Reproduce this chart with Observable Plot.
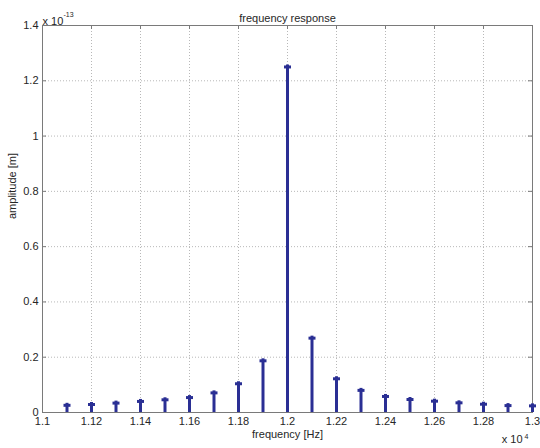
<!DOCTYPE html>
<html><head><meta charset="utf-8">
<script src="https://cdn.jsdelivr.net/npm/d3@7"></script>
<script src="https://cdn.jsdelivr.net/npm/@observablehq/plot@0.6"></script>
<style>body{margin:0;background:#fff} svg{display:block}</style>
</head><body><div id="chart"></div>
<script>
const frequency = [1.11,1.12,1.13,1.14,1.15,1.16,1.17,1.18,1.19,1.20,1.21,1.22,1.23,1.24,1.25,1.26,1.27,1.28,1.29,1.30];
const amplitude = [0.026,0.029,0.034,0.040,0.046,0.054,0.071,0.104,0.187,1.25,0.269,0.122,0.080,0.058,0.047,0.041,0.035,0.030,0.025,0.024];
const xTicks = [1.1,1.12,1.14,1.16,1.18,1.2,1.22,1.24,1.26,1.28,1.3];
const yTicks = [0,0.2,0.4,0.6,0.8,1,1.2,1.4];
const titleText = "frequency response";
const xLabel = "frequency [Hz]";
const yLabel = "amplitude [m]";
const yExponent = "-13";
const xExponent = "4";

const data = frequency.map((f, i) => ({f, a: amplitude[i]}));
const W = 540, H = 448, mL = 42, mR = 8, mT = 25, mB = 36;
const innerH = H - mT - mB, innerW = W - mL - mR;
const fmt = d => String(+d.toFixed(2));
const stemColor = "#2a2f94";
const frameColor = "#7a7a7a";
const gridColor = "#b8b8b8";
const barSymbol = {draw(ctx) { ctx.rect(-3.5, -1.5, 7, 3); }};

const chart = Plot.plot({
  width: W, height: H,
  marginLeft: mL, marginRight: mR, marginTop: mT, marginBottom: mB,
  style: {fontFamily: "'Liberation Sans', Arial, sans-serif", fontSize: "11px", color: "#262626", background: "#fff", overflow: "visible"},
  x: {domain: [1.1, 1.3], ticks: xTicks, tickFormat: fmt, tickSize: 0, tickPadding: 5, label: null},
  y: {domain: [0, 1.4], ticks: yTicks, tickFormat: fmt, tickSize: 0, tickPadding: 4, label: null},
  marks: [
    Plot.ruleX(xTicks.slice(1, -1), {stroke: gridColor, strokeDasharray: "1,2"}),
    Plot.ruleY(yTicks.slice(1, -1), {stroke: gridColor, strokeDasharray: "1,2"}),
    Plot.ruleX(xTicks, {insetTop: innerH - 4, stroke: frameColor}),
    Plot.ruleX(xTicks, {insetBottom: innerH - 4, stroke: frameColor}),
    Plot.ruleY(yTicks, {insetRight: innerW - 4, stroke: frameColor}),
    Plot.ruleY(yTicks, {insetLeft: innerW - 4, stroke: frameColor}),
    Plot.frame({stroke: frameColor}),
    Plot.ruleX(data, {x: "f", y1: "a", y2: 0, insetTop: -2, stroke: stemColor, strokeWidth: 3}),
    Plot.dot(data, {x: "f", y: "a", symbol: barSymbol, r: 3, fill: stemColor, stroke: "none"}),
    Plot.text([titleText], {frameAnchor: "top", dy: -11}),
    Plot.text([xLabel], {frameAnchor: "bottom", dy: 25}),
    Plot.text([yLabel], {frameAnchor: "left", dx: -30, rotate: -90}),
    Plot.text(["x 10"], {frameAnchor: "top-left", textAnchor: "start", dy: -8}),
    Plot.text([yExponent], {frameAnchor: "top-left", textAnchor: "start", dx: 21, dy: -13, fontSize: 7}),
    Plot.text(["x 10"], {frameAnchor: "bottom-right", textAnchor: "end", dx: -10, dy: 30}),
    Plot.text([xExponent], {frameAnchor: "bottom-right", textAnchor: "start", dx: -8, dy: 26, fontSize: 7})
  ]
});
document.getElementById("chart").appendChild(chart);
</script>
</body></html>
